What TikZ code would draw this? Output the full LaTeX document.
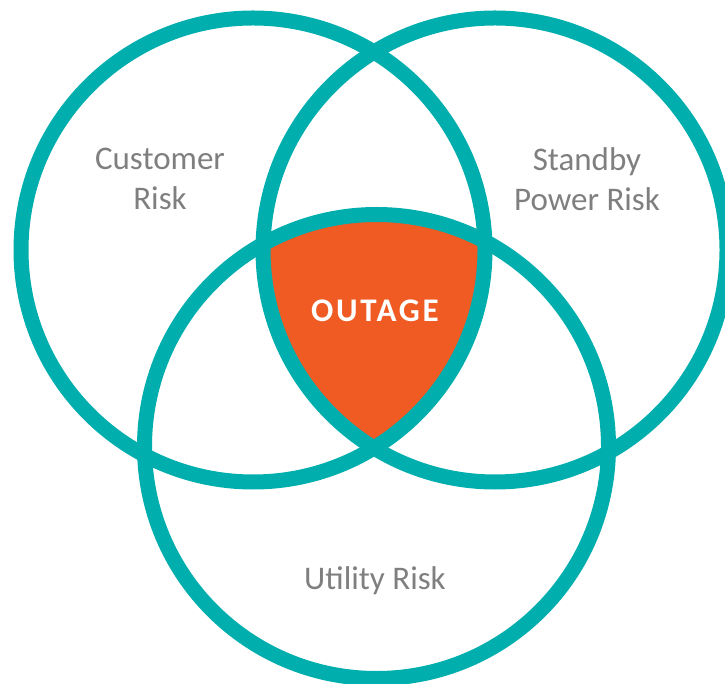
\documentclass[tikz,border=0pt]{standalone}
\usepackage{fontspec}
\setmainfont{Carlito}
\usepackage{xcolor}
\usepackage{tikz}

\definecolor{ringteal}{HTML}{00AEAE}
\definecolor{outageorange}{HTML}{F05A23}
\definecolor{labelgrey}{HTML}{7F7F7F}

\begin{document}
\begin{tikzpicture}[x=1pt, y=1pt,
    ring/.style={draw=ringteal, line width=15pt},
    risklabel/.style={text=labelgrey, font=\fontsize{33}{40}\selectfont, align=center, inner sep=0pt}]
          \useasboundingbox (0,0) rectangle (725,683);

          \coordinate (cust) at (253,433);
          \coordinate (power) at (495,433);
          \coordinate (util) at (376.5,236.5);

          % region shared by all three rings
          \begin{scope}
            \clip (cust) circle (232);
            \clip (power) circle (232);
            \fill[outageorange] (util) circle (232);
          \end{scope}

          \foreach \c in {cust, power, util}{%
            \draw[ring] (\c) circle (232);
          }

          \node[risklabel] (custlabel) at (160,504) {Customer\\Risk};
          \node[risklabel] (powerlabel) at (587,504) {Standby\\Power Risk};
          \node[risklabel, anchor=base] (utillabel) at (375,94) {Utility Risk};
          \node[text=white, inner sep=0pt, anchor=base,
                font=\fontsize{33}{40}\selectfont\bfseries\addfontfeature{LetterSpace=8}] (outage) at (375,361) {OUTAGE};
        \end{tikzpicture}
\end{document}
